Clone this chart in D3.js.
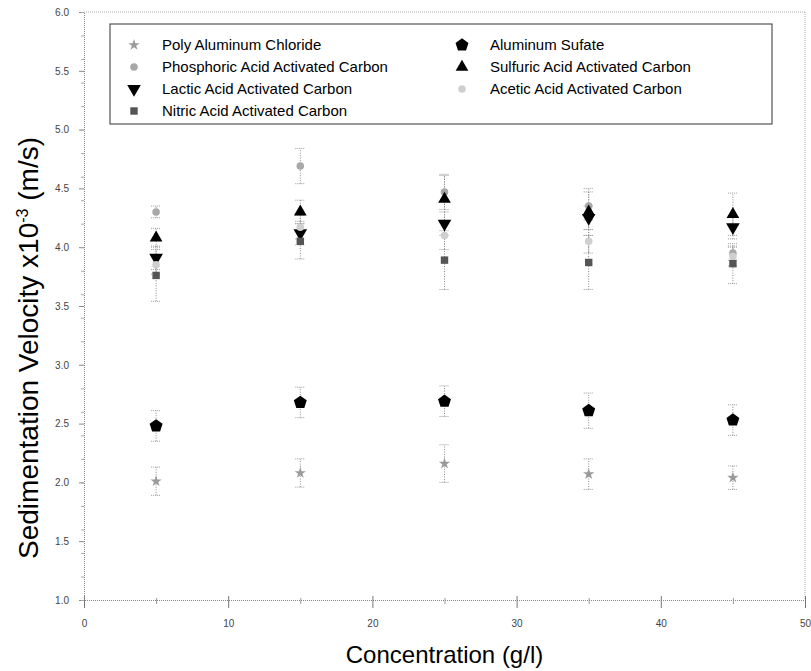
<!DOCTYPE html>
<html>
<head>
<meta charset="utf-8">
<script src="https://cdn.jsdelivr.net/npm/d3@7"></script>
<style>
  body { margin: 0; background: #fff; }
  svg { font-family: "Liberation Sans", Arial, sans-serif; }
</style>
</head>
<body>
<div id="chart"></div>
<script>
// datos
const concentration = [5, 15, 25, 35, 45];

const seriesNames = [
  "Poly Aluminum Chloride", "Aluminum Sufate",
  "Phosphoric Acid Activated Carbon", "Sulfuric Acid Activated Carbon",
  "Lactic Acid Activated Carbon", "Acetic Acid Activated Carbon",
  "Nitric Acid Activated Carbon"
];

const pac        = [2.01, 2.08, 2.16, 2.07, 2.04];
const pacErr     = [0.12, 0.12, 0.16, 0.13, 0.10];
const alSulfate  = [2.48, 2.68, 2.69, 2.61, 2.53];
const alSulfErr  = [0.13, 0.13, 0.13, 0.15, 0.13];
const phosphoric = [4.30, 4.69, 4.47, 4.35, 3.95];
const phosErr    = [0.05, 0.15, 0.15, 0.12, 0.06];
const sulfuric   = [4.08, 4.30, 4.41, 4.30, 4.28];
const sulfErr    = [0.08, 0.10, 0.20, 0.20, 0.18];
const lactic     = [3.91, 4.12, 4.20, 4.25, 4.17];
const lacticErr  = [0.10, 0.10, 0.10, 0.10, 0.10];
const acetic     = [3.85, 4.17, 4.10, 4.05, 3.92];
const aceticErr  = [0.08, 0.10, 0.12, 0.10, 0.08];
const nitric     = [3.76, 4.05, 3.89, 3.87, 3.86];
const nitricErr  = [0.22, 0.15, 0.25, 0.23, 0.17];

const xTicks = [0, 10, 20, 30, 40, 50];
const yTicks = [1.0, 1.5, 2.0, 2.5, 3.0, 3.5, 4.0, 4.5, 5.0, 5.5, 6.0];

// simbolo pentagono (no existe en d3)
const symbolPentagon = {
  draw(context, size) {
    const r = Math.sqrt(size / 2.378);
    for (let i = 0; i < 5; i++) {
      const a = -Math.PI / 2 + i * 2 * Math.PI / 5;
      const px = r * Math.cos(a), py = r * Math.sin(a);
      if (i === 0) context.moveTo(px, py); else context.lineTo(px, py);
    }
    context.closePath();
  }
};

const series = [
  { name: seriesNames[0], values: pac,        err: pacErr,    symbol: d3.symbolStar,     size: 40, fill: "#9a9a9a", rot: 0 },
  { name: seriesNames[1], values: alSulfate,  err: alSulfErr, symbol: symbolPentagon,    size: 110, fill: "#000",   rot: 0 },
  { name: seriesNames[2], values: phosphoric, err: phosErr,   symbol: d3.symbolCircle,   size: 45, fill: "#a8a8a8", rot: 0 },
  { name: seriesNames[3], values: sulfuric,   err: sulfErr,   symbol: d3.symbolTriangle, size: 70, fill: "#000",    rot: 0 },
  { name: seriesNames[4], values: lactic,     err: lacticErr, symbol: d3.symbolTriangle, size: 80, fill: "#000",    rot: 180 },
  { name: seriesNames[5], values: acetic,     err: aceticErr, symbol: d3.symbolCircle,   size: 45, fill: "#cfcfcf", rot: 0 },
  { name: seriesNames[6], values: nitric,     err: nitricErr, symbol: d3.symbolSquare,   size: 55, fill: "#555",    rot: 0 }
];

var margin = { top: 12, right: 6, bottom: 71, left: 84 },
    width = 811 - margin.left - margin.right,
    height = 671 - margin.top - margin.bottom;

var svg = d3.select("#chart")
    .append("svg")
    .attr("width", 811)
    .attr("height", 671);

var g = svg.append("g")
    .attr("transform", "translate(" + margin.left + "," + margin.top + ")");

var x = d3.scaleLinear().domain([0, 50]).range([0, width]);
var y = d3.scaleLinear().domain([1, 6]).range([height, 0]);

// marco punteado
g.append("line").attr("x1", 0).attr("x2", width).attr("y1", 0).attr("y2", 0)
    .attr("stroke", "#aaa").attr("stroke-dasharray", "1,1");
g.append("line").attr("x1", width).attr("x2", width).attr("y1", 0).attr("y2", height)
    .attr("stroke", "#aaa").attr("stroke-dasharray", "1,1");

// eje X
var xAxis = g.append("g")
    .attr("transform", "translate(0," + height + ")")
    .call(d3.axisBottom(x).tickValues(xTicks).tickFormat(d3.format("d")).tickSize(6).tickPadding(14));
xAxis.select(".domain").attr("stroke", "#888").attr("stroke-dasharray", "1,1");
xAxis.selectAll(".tick line").attr("stroke", "#777").attr("y1", -4).attr("y2", 8);
xAxis.selectAll(".tick text").attr("fill", "#444").style("font-size", "10px");
// ticks menores
g.append("g")
    .attr("transform", "translate(0," + height + ")")
    .call(d3.axisBottom(x).tickValues(concentration).tickFormat("").tickSize(4))
    .call(a => a.select(".domain").remove())
    .selectAll(".tick line").attr("stroke", "#999").attr("y1", -2);

// eje Y
var yAxis = g.append("g")
    .call(d3.axisLeft(y).tickValues(yTicks).tickFormat(d3.format(".1f")).tickSize(5).tickPadding(10));
yAxis.select(".domain").attr("stroke", "#888").attr("stroke-dasharray", "1,1");
yAxis.selectAll(".tick line").attr("stroke", "#888");
yAxis.selectAll(".tick text").attr("fill", "#444").style("font-size", "10px");
g.append("g")
    .call(d3.axisLeft(y).ticks(20).tickFormat("").tickSize(3))
    .call(a => a.select(".domain").remove())
    .selectAll(".tick line").attr("stroke", "#aaa");

// titulos de ejes
g.append("text")
    .attr("x", width / 2)
    .attr("y", height + 63)
    .attr("text-anchor", "middle")
    .style("font-size", "24px")
    .text("Concentration (g/l)");

var yTitle = svg.append("text")
    .attr("transform", "translate(38,348) rotate(-90)")
    .attr("text-anchor", "middle")
    .style("font-size", "28px");
yTitle.append("tspan").text("Sedimentation Velocity x10");
yTitle.append("tspan").attr("dy", "-0.6em").style("font-size", "16px").text("-3");
yTitle.append("tspan").attr("dy", "0.35em").text(" (m/s)");

// barras de error y simbolos
series.forEach(function(s) {
  var pts = concentration.map((c, i) => ({ c: c, v: s.values[i], e: s.err[i] }));
  var eg = g.append("g");
  eg.selectAll("line.err")
    .data(pts).enter().append("line")
    .attr("x1", d => x(d.c)).attr("x2", d => x(d.c))
    .attr("y1", d => y(d.v - d.e)).attr("y2", d => y(d.v + d.e))
    .attr("stroke", "#888").attr("stroke-dasharray", "1,1.5");
  [-1, 1].forEach(function(sg) {
    eg.selectAll(null)
      .data(pts).enter().append("line")
      .attr("x1", d => x(d.c) - 5).attr("x2", d => x(d.c) + 5)
      .attr("y1", d => y(d.v + sg * d.e)).attr("y2", d => y(d.v + sg * d.e))
      .attr("stroke", "#999").attr("stroke-dasharray", "1,1");
  });
});

series.forEach(function(s) {
  var pts = concentration.map((c, i) => ({ c: c, v: s.values[i] }));
  g.append("g").selectAll("path")
    .data(pts).enter().append("path")
    .attr("d", d3.symbol().type(s.symbol).size(s.size))
    .attr("transform", d => "translate(" + x(d.c) + "," + y(d.v) + ") rotate(" + s.rot + ")")
    .attr("fill", s.fill);
});

// leyenda
var legend = svg.append("g");
legend.append("rect")
    .attr("x", 110).attr("y", 24).attr("width", 662).attr("height", 100)
    .attr("fill", "#fff").attr("stroke", "#333").attr("stroke-width", 1);

var legPos = [
  { col: 0, row: 0 }, { col: 1, row: 0 },
  { col: 0, row: 1 }, { col: 1, row: 1 },
  { col: 0, row: 2 }, { col: 1, row: 2 },
  { col: 0, row: 3 }
];
series.forEach(function(s, i) {
  var p = legPos[i];
  var lx = p.col === 0 ? 134 : 462;
  var ly = 45 + p.row * 22;
  legend.append("path")
    .attr("d", d3.symbol().type(s.symbol).size(s.size))
    .attr("transform", "translate(" + lx + "," + ly + ") rotate(" + s.rot + ")")
    .attr("fill", s.fill);
  legend.append("text")
    .attr("x", lx + 28).attr("y", ly + 5)
    .style("font-size", "15px")
    .text(s.name);
});
</script>
</body>
</html>
